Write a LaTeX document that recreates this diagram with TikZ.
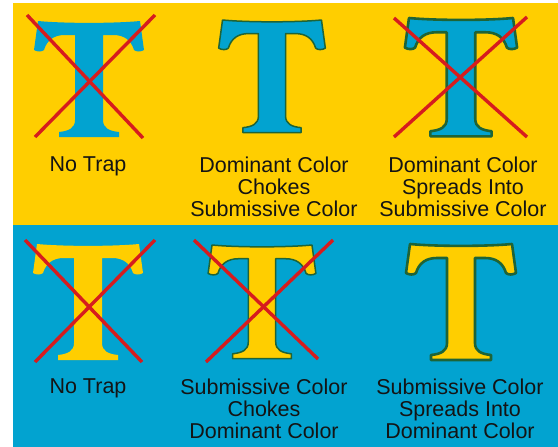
\documentclass[tikz,border=0pt]{standalone}
\usepackage{fontspec}
\setmainfont{Liberation Sans}
\definecolor{panelyellow}{RGB}{255,206,0}
\definecolor{panelblue}{RGB}{2,163,208}
\definecolor{trapgreen}{RGB}{30,100,55}
\definecolor{crossred}{RGB}{214,28,30}
\definecolor{labelink}{RGB}{20,20,20}
\tikzset{
  tglyph/.pic={
    \path[pic actions]
      (-51,0) .. controls (-25,2.5) and (25,2.5) .. (51,0)
      -- (55,29)
      .. controls (52,31) and (47,31) .. (45,29)
      .. controls (42,19) and (35,14) .. (24,14)
      -- (14,14) -- (14,99)
      .. controls (14,107) and (20,110) .. (30,111)
      -- (30,116) -- (-30,116) -- (-30,111)
      .. controls (-20,110) and (-14,107) .. (-14,99)
      -- (-14,14) -- (-24,14)
      .. controls (-35,14) and (-42,19) .. (-45,29)
      .. controls (-47,31) and (-52,31) .. (-55,29)
      -- cycle;
  },
  choke/.style={draw=trapgreen, line width=1.5pt, line join=round},
  spread/.style={draw=trapgreen, line width=2.6pt, line join=round},
  cross/.style={draw=crossred, line width=3.4pt},
  label/.style={anchor=north, inner sep=0pt, align=center, text=labelink,
    font=\fontsize{21.5}{22}\selectfont}
}
\begin{document}
\begin{tikzpicture}[x=1pt, y=-1pt]
\useasboundingbox (0,0) rectangle (558,447);
\fill[white] (0,0) rectangle (558,447);
% panels
\fill[panelyellow] (13,3) rectangle (558,225);
\fill[panelblue] (13,225) rectangle (558,447);
% row 1: blue T on yellow
\pic[fill=panelblue] at (89,21) {tglyph};
\pic[fill=panelblue, choke, scale=0.97] at (272,20) {tglyph};
\pic[fill=panelblue, spread, scale=1.02] at (461,18) {tglyph};
% row 2: yellow T on blue
\pic[fill=panelyellow] at (88,244) {tglyph};
\pic[fill=panelyellow, choke, scale=0.98] at (262,245) {tglyph};
\pic[fill=panelyellow, spread] at (461,244) {tglyph};
% crosses
\draw[cross] (27,15) -- (143,138);
\draw[cross] (155,15) -- (35,137);
\draw[cross] (394,18) -- (527,137);
\draw[cross] (527,17) -- (394,137);
\draw[cross] (25,240) -- (142,362);
\draw[cross] (155,240) -- (35,362);
\draw[cross] (194,240) -- (318,359);
\draw[cross] (333,240) -- (206,362);
% labels
\node[label] (l11) at (88,156.6) {No Trap};
\node[label] (l12) at (274,156.6) {Dominant Color\\Chokes\\Submissive Color};
\node[label] (l13) at (463,156.6) {Dominant Color\\Spreads Into\\Submissive Color};
\node[label] (l21) at (88,378.6) {No Trap};
\node[label] (l22) at (264,378.6) {Submissive Color\\Chokes\\Dominant Color};
\node[label] (l23) at (460,378.6) {Submissive Color\\Spreads Into\\Dominant Color};
\end{tikzpicture}
\end{document}
